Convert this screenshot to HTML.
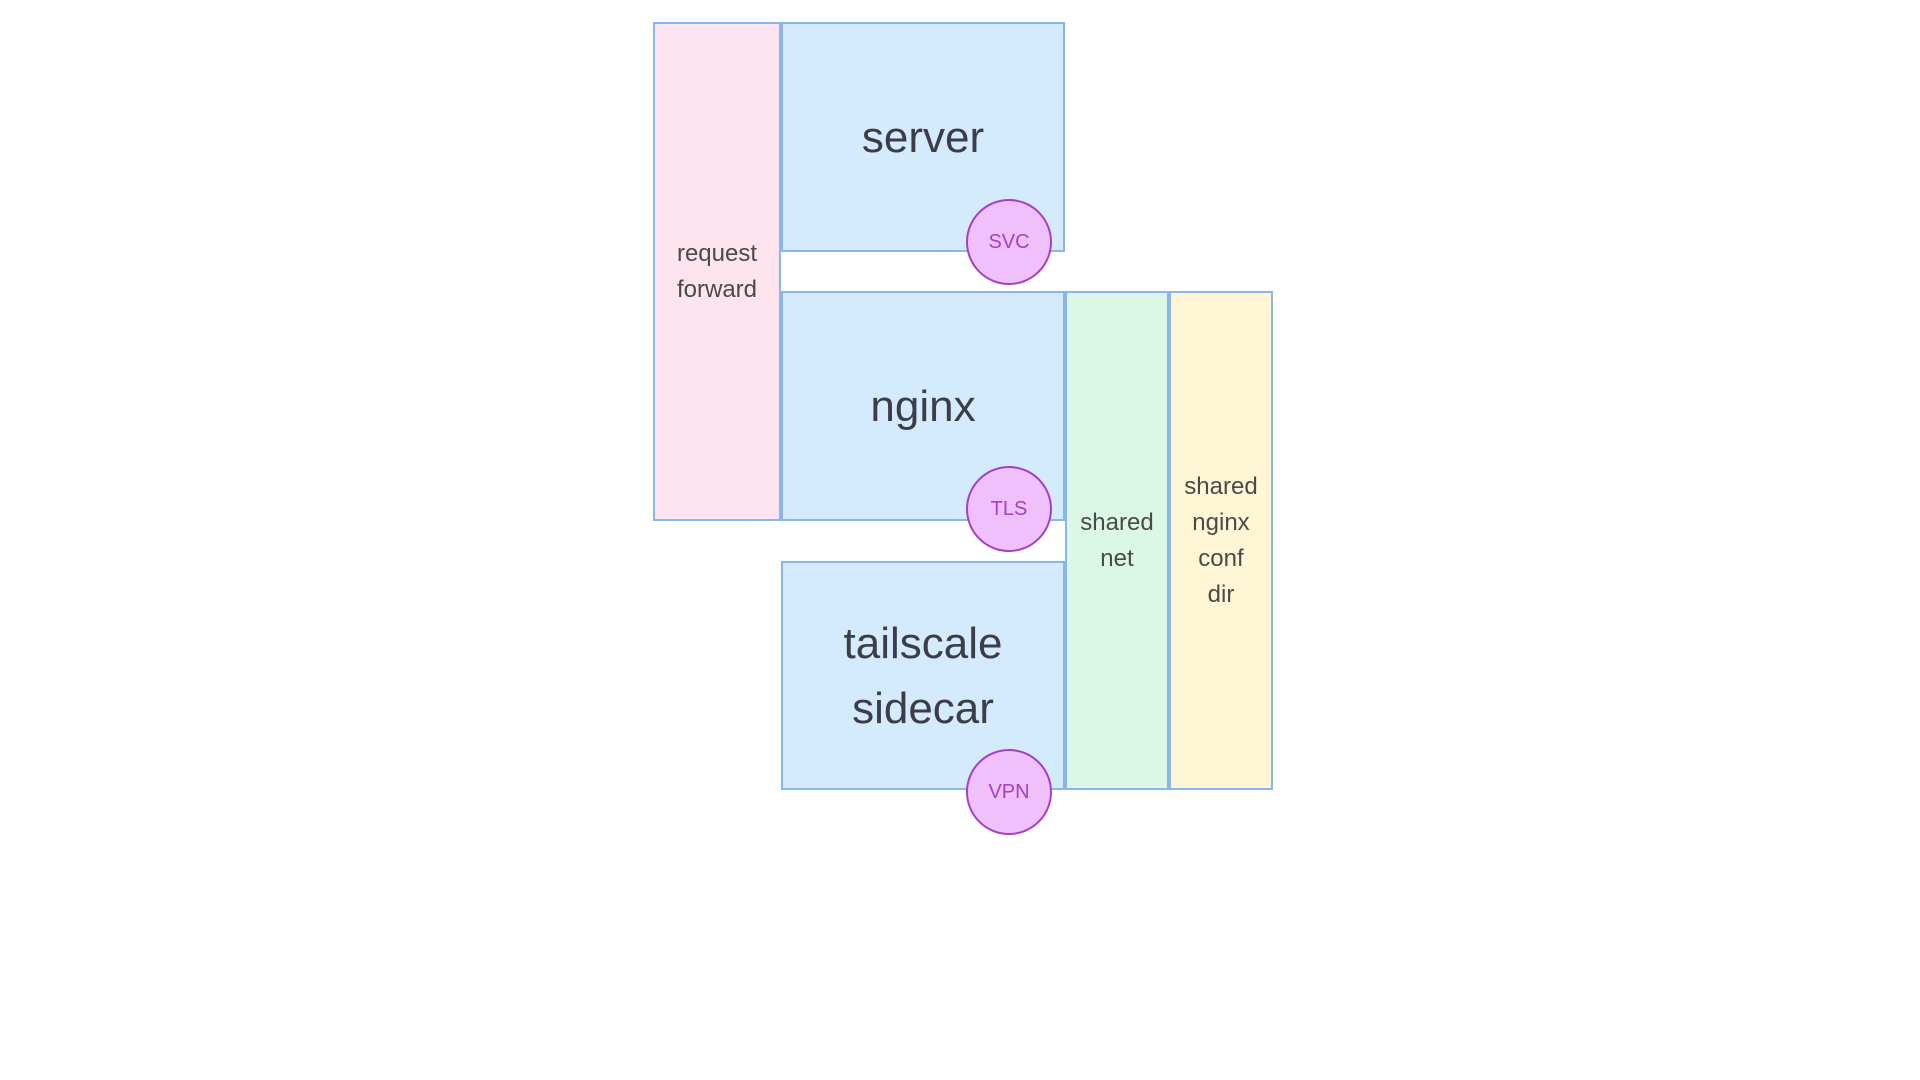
<!DOCTYPE html>
<html><head><style>
body{margin:0;width:1920px;height:1080px;background:#fff;position:relative;overflow:hidden;font-family:"Liberation Sans",sans-serif;color:#3d3d4a}
.b{position:absolute;box-sizing:border-box;border:2px solid #8ab6ee;display:flex;align-items:center;justify-content:center;text-align:center}
.blue{background:#d4eafd;font-size:44px;line-height:65px}
.s{font-size:24px;line-height:36px;color:#4a4a4a}
.c{position:absolute;width:86px;height:86px;border-radius:50%;background:#efc0fb;border:2px solid #a53fc6;box-sizing:border-box;display:flex;align-items:center;justify-content:center;color:#a53fc6;font-size:20px}
</style></head><body>
<div class="b s" style="left:653px;top:22px;width:128px;height:499px;background:#fde4ee">request<br>forward</div>
<div class="b blue" style="left:781px;top:22px;width:284px;height:230px">server</div>
<div class="b blue" style="left:781px;top:291px;width:284px;height:230px">nginx</div>
<div class="b blue" style="left:781px;top:561px;width:284px;height:229px">tailscale<br>sidecar</div>
<div class="b s" style="left:1065px;top:291px;width:104px;height:499px;background:#dbf7e6">shared<br>net</div>
<div class="b s" style="left:1169px;top:291px;width:104px;height:499px;background:#fff6d6">shared<br>nginx<br>conf<br>dir</div>
<div class="c" style="left:966px;top:199px">SVC</div>
<div class="c" style="left:966px;top:466px">TLS</div>
<div class="c" style="left:966px;top:749px">VPN</div>
</body></html>
